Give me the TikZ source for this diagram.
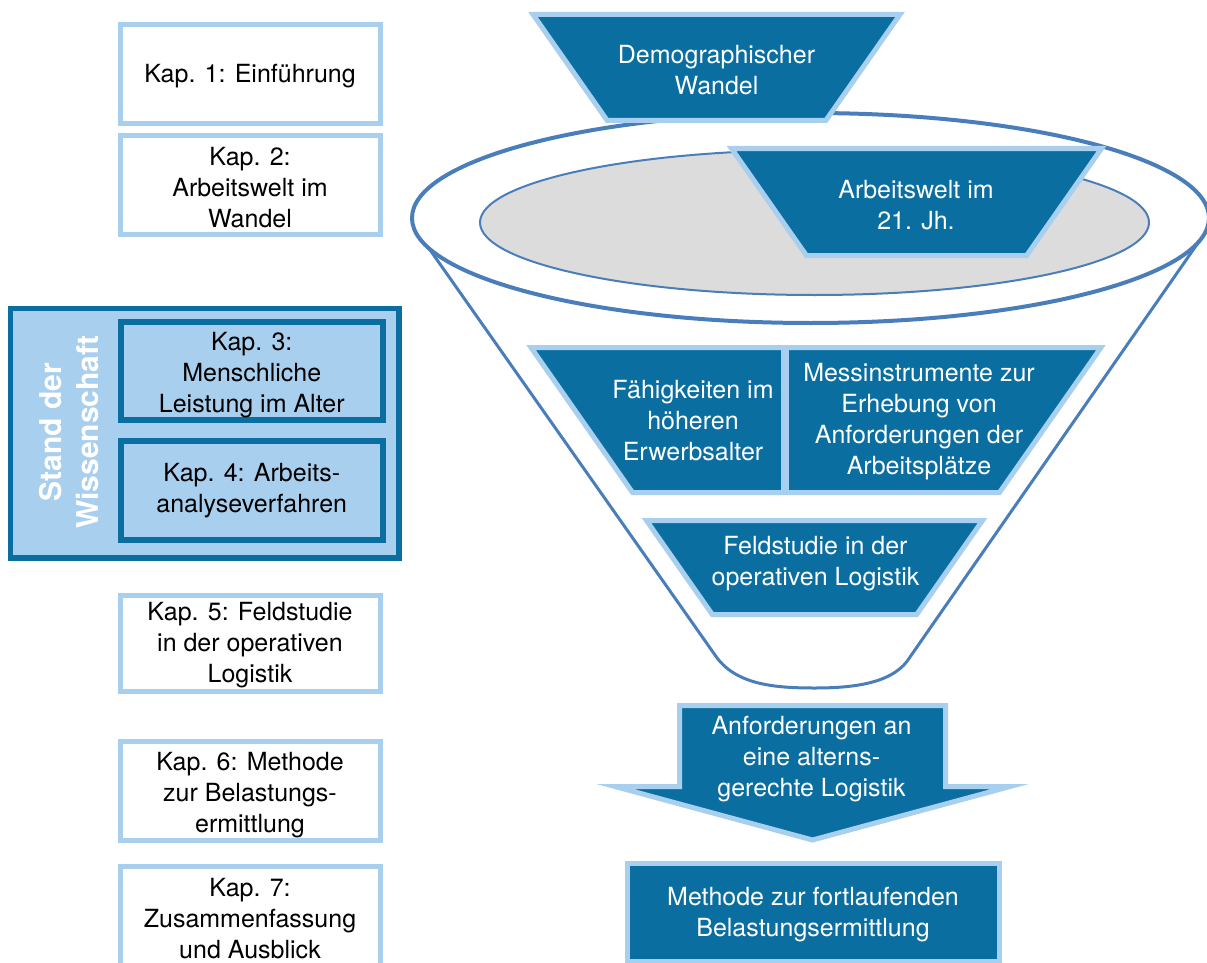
\documentclass[tikz,border=0pt]{standalone}
\usepackage{fontspec}
\setmainfont{TeX Gyre Heros}
\definecolor{dblue}{HTML}{0A6FA0}
\definecolor{lblue}{HTML}{A9CFEE}
\definecolor{fline}{HTML}{4A7EBB}
\definecolor{egray}{HTML}{DCDCDC}
\begin{document}
\begin{tikzpicture}[x=1pt,y=-1pt,
  txt/.style={align=center, font=\fontsize{25}{31}\selectfont, inner sep=0pt},
  wtxt/.style={txt, text=white},
  kapbox/.style={draw=lblue, line width=5pt, fill=white},
  sbox/.style={draw=dblue, line width=5.5pt, fill=lblue},
  dshape/.style={draw=lblue, line width=5pt, fill=dblue, line join=miter, miter limit=12},
]
\useasboundingbox (0,0) rectangle (1207,963);
\clip (0,0) rectangle (1207,963);
\fill[white] (0,0) rectangle (1207,963);

% funnel
\draw[fline, line width=4pt] (810.5,218) ellipse [x radius=398.5, y radius=105];
\draw[fline, line width=3pt, line join=round] (428,247) -- (715,655)
  .. controls (735,685) and (775,688) .. (815,688)
  .. controls (858,688) and (895,682) .. (910,657) -- (1200,240);
\draw[fline, line width=2pt, fill=egray] (814.5,222.5) ellipse [x radius=334.5, y radius=72.5];

% right shapes
\draw[dshape] (533,14.5) -- (900,14.5) -- (825.8,120.5) -- (607.2,120.5) -- cycle;
\draw[dshape] (731.5,148.5) -- (1101.5,148.5) -- (1026.6,255.5) -- (806.4,255.5) -- cycle;
\draw[dshape] (531,347.5) -- (1101,347.5) -- (999.5,492.5) -- (632.5,492.5) -- cycle;
\draw[lblue, line width=8pt] (785,347.5) -- (785,492.5);
\draw[dshape] (646.5,520.5) -- (982.5,520.5) -- (916.7,614.5) -- (712.3,614.5) -- cycle;
\draw[dshape] (679.5,705.5) -- (945.5,705.5) -- (945.5,786.5) -- (1010,786.5) -- (812.5,840)
  -- (615,786.5) -- (679.5,786.5) -- cycle;
\draw[dshape] (627,863) rectangle (999,961);

\node[wtxt] (demo) at (716.5,70.5) {Demographischer\\Wandel};
\node[wtxt] (arbeit) at (916,205.5) {Arbeitswelt im\\21. Jh.};
\node[wtxt] (faeh) at (693,420.5) {Fähigkeiten im\\höheren\\Erwerbsalter};
\node[wtxt] (mess) at (919,422) {Messinstrumente zur\\Erhebung von\\Anforderungen der\\Arbeitsplätze};
\node[wtxt] (feld) at (815.5,564) {Feldstudie in der\\operativen Logistik};
\node[wtxt] (anf) at (811.5,759) {Anforderungen an\\eine alterns-\\gerechte Logistik};
\node[wtxt] (meth) at (813,915) {Methode zur fortlaufenden\\Belastungsermittlung};

% left boxes
\draw[kapbox] (120,24.5) rectangle (380,123.5);
\draw[kapbox] (120,136) rectangle (380,234.5);
\draw[sbox] (10.5,308.5) rectangle (399,558);
\draw[sbox, line width=6pt] (120.5,321.5) rectangle (383,420);
\draw[sbox, line width=6pt] (120.5,441) rectangle (383,540);
\draw[kapbox] (120,595.5) rectangle (380,691.5);
\draw[kapbox] (120,741.5) rectangle (380,840.5);
\draw[kapbox] (120,866.5) rectangle (380,968);

\node[txt] (k1) at (250,76.5) {Kap. 1: Einführung};
\node[txt] (k2) at (250,188) {Kap. 2:\\Arbeitswelt im\\Wandel};
\node[txt] (k3) at (251.75,375) {Kap. 3:\\Menschliche\\Leistung im Alter};
\node[txt] (k4) at (251.75,491) {Kap. 4: Arbeits-\\analyseverfahren};
\node[txt] (k5) at (250,645.5) {Kap. 5: Feldstudie\\in der operativen\\Logistik};
\node[txt] (k6) at (250,795) {Kap. 6: Methode\\zur Belastungs-\\ermittlung};
\node[txt] (k7) at (250,918.5) {Kap. 7:\\Zusammenfassung\\und Ausblick};
\node[rotate=90, text=white, inner sep=0pt, align=center,
  font=\fontsize{30}{37}\selectfont\bfseries] (stand) at (69.5,432) {Stand der\\Wissenschaft};
\end{tikzpicture}
\end{document}
